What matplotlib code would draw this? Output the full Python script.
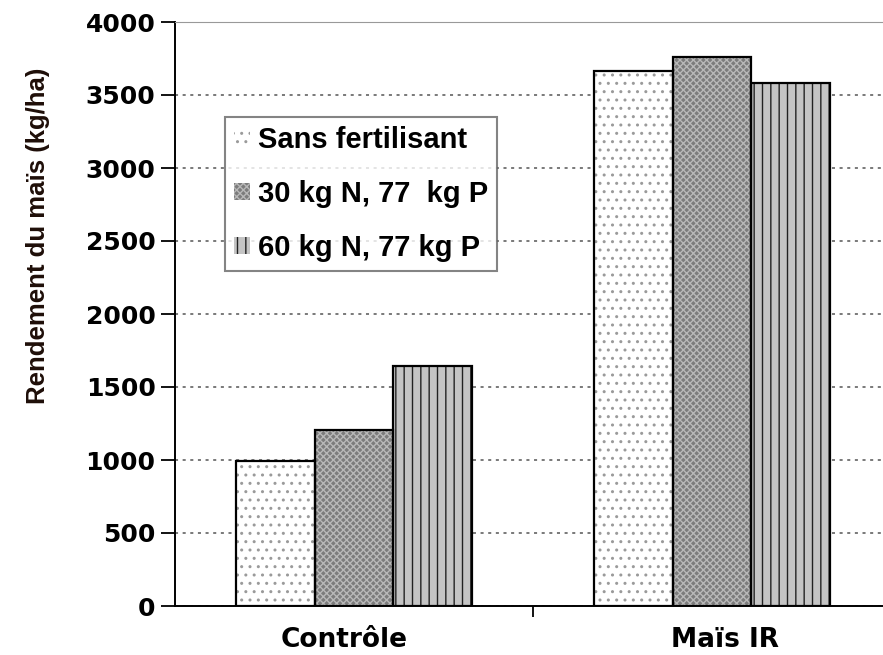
import matplotlib.pyplot as plt
import numpy as np
from matplotlib import font_manager

plt.rcParams['font.family'] = ['DejaVu Sans']
plt.rcParams['font.weight'] = 'bold'
plt.rcParams['hatch.linewidth'] = 1.0

categories = ['Contrôle', 'Maïs IR']
series = ['Sans fertilisant', '30 kg N, 77  kg P', '60 kg N, 77 kg P']
sans_fert = [990, 3665]
n30_p77 = [1205, 3760]
n60_p77 = [1645, 3580]
yticks = [0, 500, 1000, 1500, 2000, 2500, 3000, 3500, 4000]

# fill colour, hatch, hatch colour for each series
styles = [
    ('white', '..', '#9a9a9a'),
    ('#7c7c7c', 'xxxxx', '#b8b8b8'),
    ('#c4c4c4', '||', '#222222'),
]

fig = plt.figure(figsize=(8.83, 6.55), dpi=100)
ax = fig.add_axes([175 / 883, 49 / 655, 716 / 883, 584 / 655])

x = np.arange(len(categories))
w = 0.22
handles = []
for k, vals in enumerate([sans_fert, n30_p77, n60_p77]):
    fc, h, hc = styles[k]
    pos = x + (k - 1) * w
    ax.bar(pos, vals, w, color=fc, hatch=h, edgecolor=hc, linewidth=0, zorder=2)
    ax.bar(pos, vals, w, fill=False, edgecolor='black', linewidth=1.6, zorder=3)
    handles.append(plt.Rectangle((0, 0), 1, 1, facecolor=fc, hatch=h,
                                 edgecolor=hc, linewidth=0))

ax.set_xlim(-0.5, 1.5)
ax.set_ylim(0, 4000)
ax.set_yticks(yticks)
ax.set_yticklabels([str(t) for t in yticks], fontsize=18, fontweight='bold')
ax.yaxis.grid(True, linestyle=(0, (2, 3)), color='#555555', linewidth=1.1, zorder=0)
ax.set_axisbelow(True)

ax.set_xticks([0.5])
ax.set_xticklabels([''])
ax.tick_params(axis='x', length=8, width=1.3, direction='out')
ax.tick_params(axis='y', length=10, width=1.3, direction='out', pad=4)

# category labels (placed as in the reference, a bit off the group centres)
for cx, c in zip([344.5, 725], categories):
    fig.text(cx / 883, 8 / 655, c, ha='center', va='baseline',
             fontsize=19, fontweight='bold')

names = {f.name for f in font_manager.fontManager.ttflist}
if 'Liberation Sans Narrow' in names:
    yl_font, yl_size = 'Liberation Sans Narrow', 22.5
else:
    yl_font, yl_size = 'Liberation Sans', 18.5
fig.text(38 / 883, 1 - 236 / 655, 'Rendement du maïs (kg/ha)', rotation=90,
         ha='center', va='center', fontsize=yl_size, fontweight='bold',
         family=[yl_font, 'DejaVu Sans'], color='#1e0e08')

ax.spines['left'].set_linewidth(1.4)
ax.spines['bottom'].set_linewidth(1.4)
ax.spines['top'].set_color('#999999')
ax.spines['right'].set_visible(False)

leg = ax.legend(handles, series, loc='upper left',
                bbox_to_anchor=(225 / 883, 1 - 117 / 655), bbox_transform=fig.transFigure,
                prop={'size': 21, 'weight': 'bold', 'family': ['Liberation Sans', 'DejaVu Sans']},
                frameon=True, fancybox=False, borderaxespad=0,
                handlelength=0.55, handleheight=0.55, handletextpad=0.25,
                labelspacing=0.88, borderpad=0.32)
leg.get_frame().set_edgecolor('#666666')
leg.get_frame().set_linewidth(1.5)

fig.savefig('out.png', dpi=100)
